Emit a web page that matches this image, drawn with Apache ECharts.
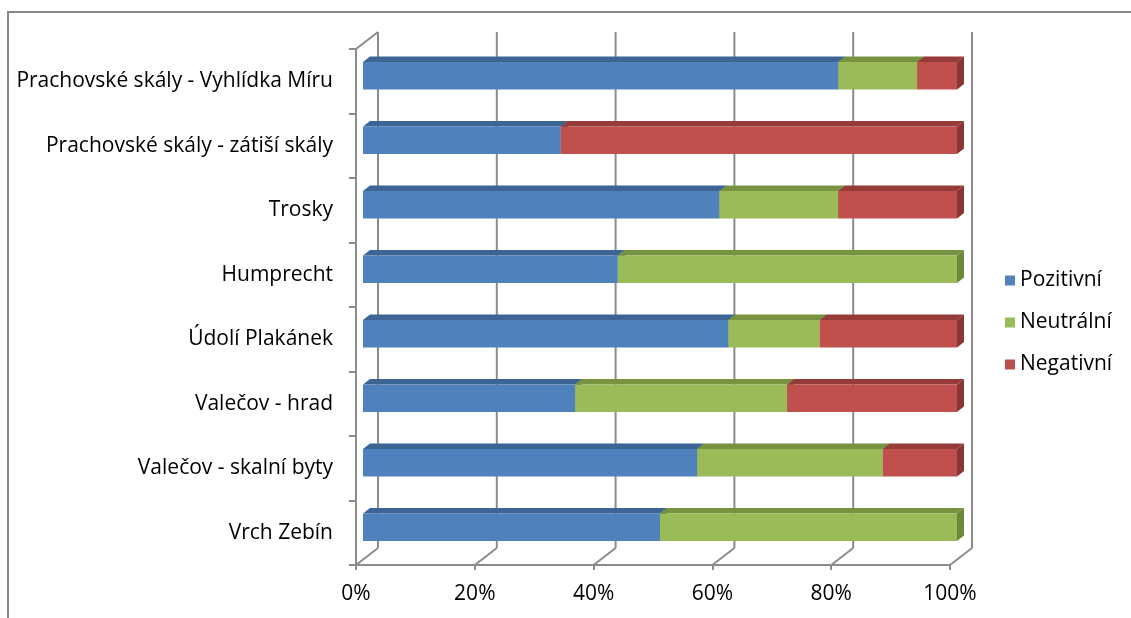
<!DOCTYPE html>
<html>
<head>
<meta charset="utf-8">
<script src="https://cdn.jsdelivr.net/npm/echarts@6/dist/echarts.min.js"></script>
<style>html,body{margin:0;padding:0;background:#fff;}#c{width:1131px;height:618px;}</style>
</head>
<body>
<div id="c"></div>
<script>
// ---- data ----
var categories = [
  'Prachovské skály - Vyhlídka Míru',
  'Prachovské skály - zátiší skály',
  'Trosky',
  'Humprecht',
  'Údolí Plakánek',
  'Valečov - hrad',
  'Valečov - skalní byty',
  'Vrch Zebín'
];
var seriesNames = ['Pozitivní', 'Neutrální', 'Negativní'];
var pozitivni = [80.0, 33.3, 60.0, 42.9, 61.5, 35.7, 56.25, 50.0];
var neutralni = [13.3, 0.0, 20.0, 57.1, 15.4, 35.7, 31.25, 50.0];
var negativni = [6.7, 66.7, 20.0, 0.0, 23.1, 28.6, 12.5, 0.0];
var xTicks = [0, 20, 40, 60, 80, 100];

// ---- styles ----
var FONT = '"Open Sans", sans-serif';
var FS = 21;
var faceColors = ['#4F81BD', '#9BBB59', '#C0504D'];
var topColors = ['#3C6494', '#779340', '#953B39'];
var sideColors = ['#385D8A', '#6D8838', '#8A3634'];
var GRID_LINE = '#8C8C8C';
var WALL_DX = 22, WALL_DY = 17; // floor/wall depth
var BAR_DX = 7, BAR_DY = 5.5;   // bar depth

var values = [pozitivni, neutralni, negativni];
function stackedData(si) {
  var out = [];
  for (var i = 0; i < categories.length; i++) {
    var start = 0;
    for (var k = 0; k < si; k++) start += values[k][i];
    out.push([i, start, start + values[si][i]]);
  }
  return out;
}

function barRender(si) {
  return function (params, api) {
    var cat = api.value(0), s = api.value(1), e = api.value(2);
    if (e - s <= 0) return null;
    var p0 = api.coord([s, cat]);
    var p1 = api.coord([e, cat]);
    var band = api.size([0, 1])[1];
    var h = band * 0.43;
    var x0 = p0[0] + BAR_DX, x1 = p1[0] + BAR_DX;
    var yc = p0[1] - BAR_DY;
    var yt = yc - h / 2, yb = yc + h / 2;
    return {
      type: 'group',
      children: [
        { type: 'polygon', shape: { points: [[x0, yt], [x1, yt], [x1 + BAR_DX, yt - BAR_DY], [x0 + BAR_DX, yt - BAR_DY]] },
          style: { fill: topColors[si] } },
        { type: 'polygon', shape: { points: [[x1, yt], [x1 + BAR_DX, yt - BAR_DY], [x1 + BAR_DX, yb - BAR_DY], [x1, yb]] },
          style: { fill: sideColors[si] } },
        { type: 'rect', shape: { x: x0, y: yt, width: x1 - x0, height: yb - yt },
          style: { fill: faceColors[si] } }
      ]
    };
  };
}

function wallRender(params, api) {
  var v = api.value(0);
  var band = api.size([0, 1])[1];
  var pTop = api.coord([v, 0]);
  var pBot = api.coord([v, categories.length - 1]);
  var yMin = pTop[1] - band / 2, yMax = pBot[1] + band / 2;
  var x = pTop[0];
  var st = { stroke: GRID_LINE, lineWidth: 2 };
  var children = [
    { type: 'line', shape: { x1: x + WALL_DX, y1: yMax - WALL_DY, x2: x + WALL_DX, y2: yMin - WALL_DY }, style: st },
    { type: 'line', shape: { x1: x, y1: yMax, x2: x + WALL_DX, y2: yMax - WALL_DY }, style: st }
  ];
  if (v === xTicks[0]) {
    children.push({ type: 'line', shape: { x1: x, y1: yMin, x2: x + WALL_DX, y2: yMin - WALL_DY }, style: st });
  }
  return { type: 'group', children: children };
}

var series = [{
  type: 'custom',
  name: '_walls',
  renderItem: wallRender,
  data: xTicks.map(function (t) { return [t, 0]; }),
  encode: { x: 0, y: 1 },
  silent: true,
  z: 1
}];
for (var si = 0; si < 3; si++) {
  series.push({
    type: 'custom',
    name: seriesNames[si],
    renderItem: barRender(si),
    data: stackedData(si),
    encode: { x: [1, 2], y: 0 },
    itemStyle: { color: faceColors[si] },
    z: 5 + si
  });
}

var chart = echarts.init(document.getElementById('c'), null, { renderer: 'canvas' });
chart.setOption({
  backgroundColor: '#fff',
  animation: false,
  graphic: [{
    type: 'rect', shape: { x: 8, y: 12, width: 1200, height: 700 },
    style: { fill: 'none', stroke: '#868686', lineWidth: 2 }, z: 0
  }],
  legend: {
    orient: 'vertical',
    left: 1000,
    top: 265,
    itemWidth: 10,
    itemHeight: 10,
    itemGap: 21,
    icon: 'rect',
    data: seriesNames,
    textStyle: { fontFamily: FONT, fontSize: FS, color: '#000' }
  },
  grid: { left: 356, right: 181, top: 49, bottom: 53, containLabel: false },
  xAxis: {
    type: 'value', min: 0, max: 100, interval: 20,
    axisLine: { show: true, lineStyle: { color: GRID_LINE, width: 2 } },
    axisTick: { show: true, length: 5, lineStyle: { color: GRID_LINE, width: 2 } },
    axisLabel: { formatter: '{value}%', margin: 19, fontFamily: FONT, fontSize: FS, color: '#000' },
    splitLine: { show: false }
  },
  yAxis: {
    type: 'category', data: categories, inverse: true,
    axisLine: { show: true, lineStyle: { color: GRID_LINE, width: 2 } },
    axisTick: { show: true, length: 7, lineStyle: { color: GRID_LINE, width: 2 } },
    axisLabel: { margin: 23, fontFamily: FONT, fontSize: FS, color: '#000' },
    splitLine: { show: false }
  },
  series: series
});
</script>
</body>
</html>
